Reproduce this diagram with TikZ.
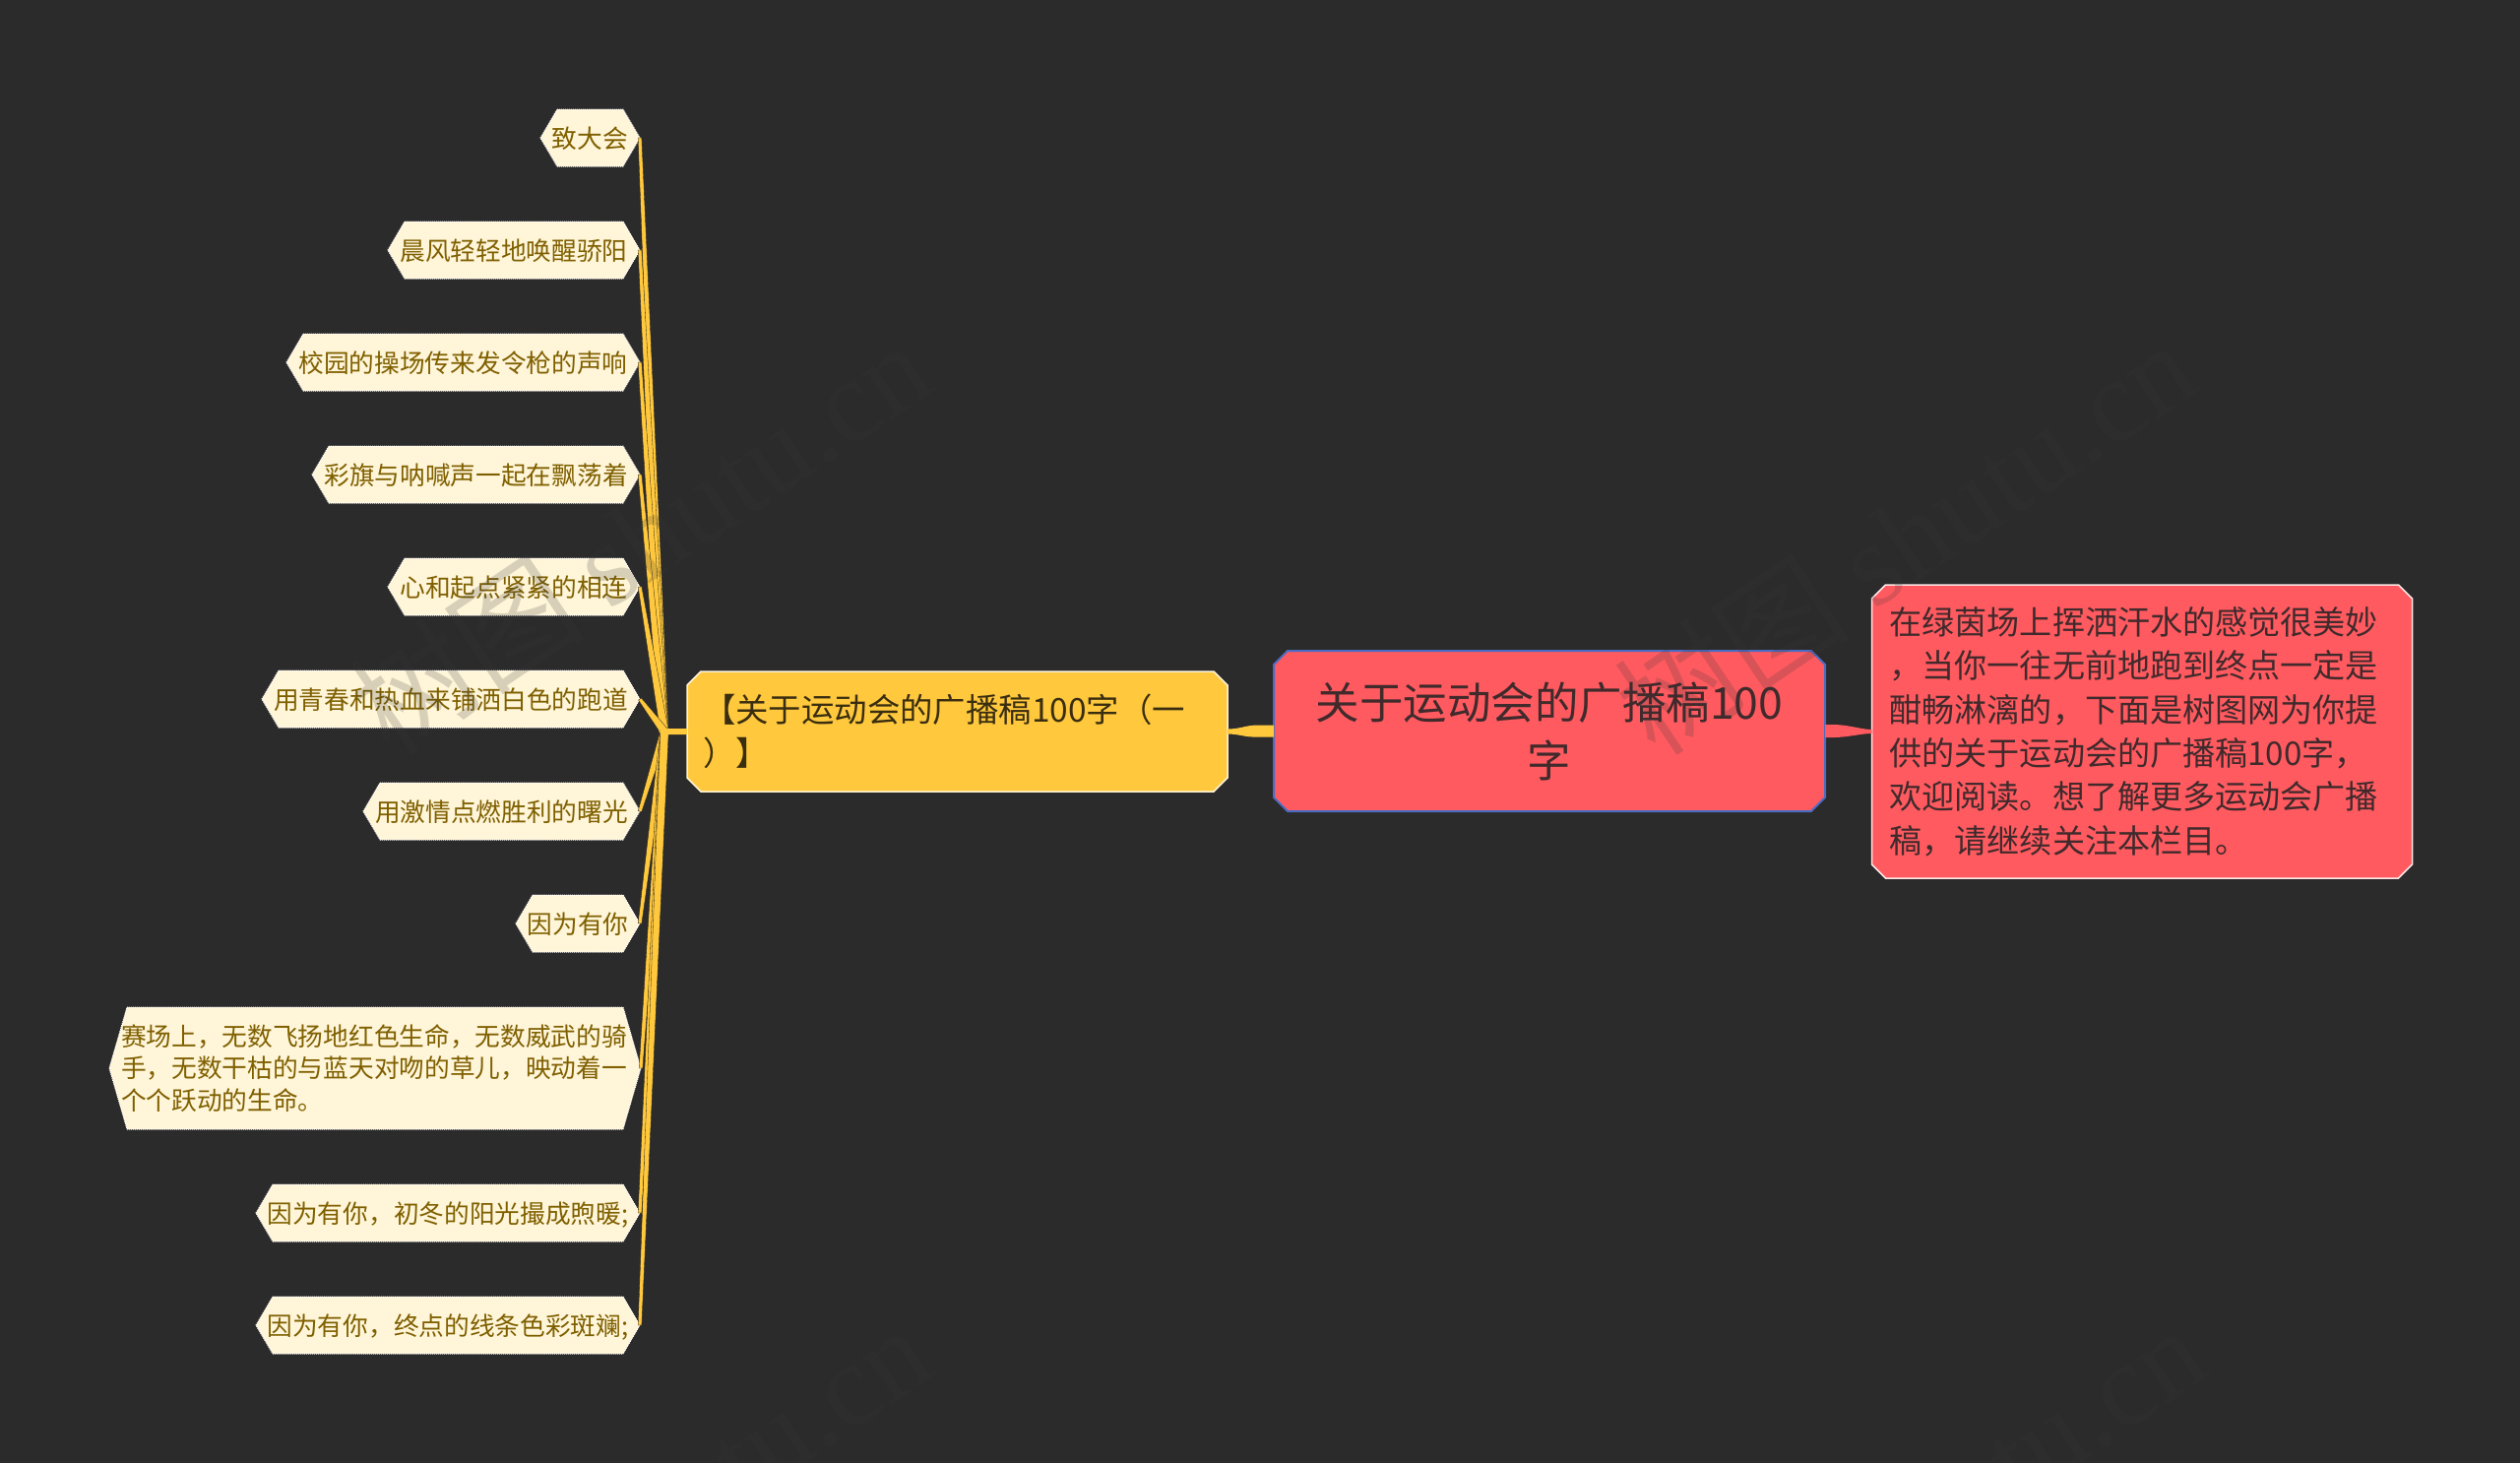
\documentclass[tikz,border=0pt]{standalone}
\usepackage{fontspec}
\setmainfont{Noto Sans CJK SC}
\newfontfamily\wmserif{Liberation Serif}
\usetikzlibrary{calc}
\definecolor{bgc}{HTML}{2B2B2B}
\definecolor{redc}{HTML}{FF5A5F}
\definecolor{yelc}{HTML}{FFC83D}
\definecolor{leafc}{HTML}{FFF5D9}
\definecolor{leaft}{HTML}{7F6000}
\definecolor{bluec}{HTML}{4A6CC3}
\definecolor{redt}{HTML}{402A2C}
\definecolor{yelt}{HTML}{3A2E10}
\definecolor{wmc}{HTML}{383838}
\makeatletter
\newdimen\cbL \newdimen\cbR \newdimen\cbB \newdimen\cbT \newdimen\cbX \newdimen\cbY
\def\boxcx{14pt}\def\boxcy{14pt}
\pgfdeclareshape{cutbox}{
  \inheritsavedanchors[from=rectangle]
  \inheritanchorborder[from=rectangle]
  \inheritanchor[from=rectangle]{center}
  \inheritanchor[from=rectangle]{base}
  \inheritanchor[from=rectangle]{north}
  \inheritanchor[from=rectangle]{south}
  \inheritanchor[from=rectangle]{east}
  \inheritanchor[from=rectangle]{west}
  \backgroundpath{
    \southwest \cbL=\pgf@x \cbB=\pgf@y
    \northeast \cbR=\pgf@x \cbT=\pgf@y
    \cbX=\boxcx\relax \cbY=\boxcy\relax
    \pgfpathmoveto{\pgfpoint{\cbL+\cbX}{\cbB}}
    \pgfpathlineto{\pgfpoint{\cbR-\cbX}{\cbB}}
    \pgfpathlineto{\pgfpoint{\cbR}{\cbB+\cbY}}
    \pgfpathlineto{\pgfpoint{\cbR}{\cbT-\cbY}}
    \pgfpathlineto{\pgfpoint{\cbR-\cbX}{\cbT}}
    \pgfpathlineto{\pgfpoint{\cbL+\cbX}{\cbT}}
    \pgfpathlineto{\pgfpoint{\cbL}{\cbT-\cbY}}
    \pgfpathlineto{\pgfpoint{\cbL}{\cbB+\cbY}}
    \pgfpathclose
  }
}
\makeatother
\tikzset{
  every node/.style={inner sep=0pt,outer sep=0pt},
  chx/.code={\def\boxcx{#1}},
  chy/.code={\def\boxcy{#1}},
  mainbox/.style={shape=cutbox,chx=14pt,chy=14pt,fill=redc},
  topicbox/.style={mainbox,draw=bluec,line width=2pt,text=redt,align=center,font=\fontsize{44.5}{59}\selectfont,minimum width=560pt,minimum height=163pt},
  notebox/.style={mainbox,draw=white!85!redc,line width=1.5pt,text=redt,align=left,text width=513pt,font=\fontsize{33.1}{44.4}\selectfont,minimum width=549pt,minimum height=298pt},
  branchbox/.style={mainbox,fill=yelc,draw=white!80!yelc,line width=1.5pt,text=yelt,align=left,text width=517pt,font=\fontsize{33.4}{44}\selectfont,minimum width=549pt,minimum height=122pt},
  leafbox/.style={shape=cutbox,chx=17pt,chy=29pt,fill=leafc,draw=white,densely dotted,line width=1pt,text=leaft,font=\fontsize{25.7}{32.5}\selectfont,minimum height=58pt,text height=23pt,text depth=3pt},
  wedge/.style={fill=yelc,draw=bgc!70!black,line width=0.3pt,solid},
  wmark/.style={text=wmc,text opacity=0.2,rotate=34,font=\fontsize{120}{120}\selectfont},
}
\begin{document}
\begin{tikzpicture}[x=1pt,y=-1pt]
\useasboundingbox (0,0) rectangle (2560,1486);
\fill[bgc] (0,0) rectangle (2560,1486);
\coordinate (hub) at (675,743);
\node[topicbox] (topic) at (1574,742.5) {关于运动会的广播稿100\\字};
\node[notebox] (note) at (2176,743) {在绿茵场上挥洒汗水的感觉很美妙\\，当你一往无前地跑到终点一定是\\酣畅淋漓的，下面是树图网为你提\\供的关于运动会的广播稿100字，\\欢迎阅读。想了解更多运动会广播\\稿，请继续关注本栏目。};
\node[branchbox] (branch) at (972.5,743) {【关于运动会的广播稿100字（一\\）】};
\node[leafbox,minimum width=101pt] (l1) at (599.5,140) {致大会};
\node[leafbox,minimum width=256pt] (l2) at (522,254) {晨风轻轻地唤醒骄阳};
\node[leafbox,minimum width=359pt] (l3) at (470.5,368) {校园的操场传来发令枪的声响};
\node[leafbox,minimum width=333pt] (l4) at (483.5,482) {彩旗与呐喊声一起在飘荡着};
\node[leafbox,minimum width=256pt] (l5) at (522,596) {心和起点紧紧的相连};
\node[leafbox,minimum width=384pt] (l6) at (458,710) {用青春和热血来铺洒白色的跑道};
\node[leafbox,minimum width=281pt] (l7) at (509.5,824) {用激情点燃胜利的曙光};
\node[leafbox,minimum width=126pt] (l8) at (587,938) {因为有你};
\node[leafbox,chy=62pt,chx=18pt,minimum width=540pt,minimum height=124pt,align=left,text width=516pt,text height=,text depth=] (l9) at (381,1085) {赛场上，无数飞扬地红色生命，无数威武的骑\\手，无数干枯的与蓝天对吻的草儿，映动着一\\个个跃动的生命。};
\node[leafbox,minimum width=390pt] (l10) at (455,1232) {因为有你，初冬的阳光撮成煦暖;};
\node[leafbox,minimum width=390pt] (l11) at (455,1346) {因为有你，终点的线条色彩斑斓;};
\foreach \n in {1,...,11}{
  \filldraw[wedge] ($(l\n.east)!1.8pt!90:(hub)$) -- ($(hub)!4.2pt!-90:(l\n.east)$) -- ($(hub)!4.2pt!90:(l\n.east)$) -- ($(l\n.east)!1.8pt!-90:(hub)$) -- cycle;
}
\fill[yelc] ($(hub)+(-6,0)$) -- ($(hub)+(-1,-3)$) -- ($(branch.west |- hub)+(0,-3)$) -- ($(branch.west |- hub)+(0,3)$) -- ($(hub)+(-1,3)$) -- cycle;
\fill[yelc] ($(branch.east)+(0,-2.5)$) .. controls ($(branch.east)+(12,-2.5)$) and ($(branch.east)+(18,-6)$) .. ($(topic.west)+(-18,-6)$) -- ($(topic.west)+(0,-6)$) -- ($(topic.west)+(0,6)$) -- ($(topic.west)+(-18,6)$) .. controls ($(branch.east)+(18,6)$) and ($(branch.east)+(12,2.5)$) .. ($(branch.east)+(0,2.5)$) -- cycle;
\fill[redc] ($(topic.east)+(0,-6.5)$) -- ($(topic.east)+(10,-6.5)$) .. controls ($(topic.east)+(25,-6)$) and ($(note.west)+(-10,-2)$) .. ($(note.west)+(0,-2)$) -- ($(note.west)+(0,2)$) .. controls ($(note.west)+(-10,2)$) and ($(topic.east)+(25,6)$) .. ($(topic.east)+(10,6.5)$) -- ($(topic.east)+(0,6.5)$) -- cycle;
\begin{scope}
\clip (0,0) rectangle (2560,1486);
\node[wmark] (wm1) at (650,545) {树图 {\wmserif shutu.cn}};
\node[wmark] (wm2) at (1935,545) {树图 {\wmserif shutu.cn}};
\node[wmark] (wm3) at (650,1545) {树图 {\wmserif shutu.cn}};
\node[wmark] (wm4) at (1945,1545) {树图 {\wmserif shutu.cn}};
\end{scope}
\end{tikzpicture}
\end{document}
